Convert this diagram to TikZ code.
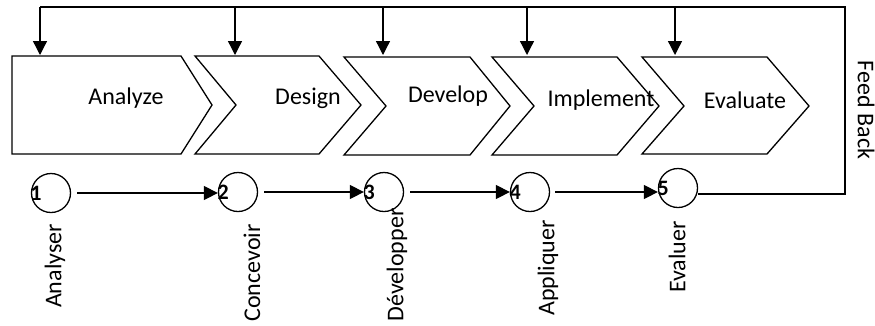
\documentclass[tikz,border=0pt]{standalone}
\usepackage{fontspec}
\setmainfont{Carlito}
\usetikzlibrary{arrows.meta}
\begin{document}
\begin{tikzpicture}[x=1pt,y=-1pt,
  line width=1.3pt,
  chev/.style={draw,line join=miter},
  lbl/.style={font=\fontsize{24}{28}\selectfont,inner sep=0pt},
  vlbl/.style={font=\fontsize{24}{28}\selectfont,inner sep=0pt,rotate=90},
  num/.style={font=\fontsize{22}{26}\selectfont\bfseries,inner sep=0pt,anchor=west},
  stage/.style={draw,circle,minimum size=39pt,inner sep=0pt},
  arr/.style={-{Triangle[width=14pt,length=14pt]}}]
\useasboundingbox (0,0) rectangle (875,325);
% chevrons
\draw[chev] (12,56) -- (181,56) -- (212,105) -- (181,154) -- (12,154) -- cycle;
\draw[chev] (195,56) -- (319,56) -- (361,105) -- (319,154) -- (195,154) -- (236,105) -- cycle;
\draw[chev] (344,57) -- (470,57) -- (510,106) -- (470,155) -- (344,155) -- (386,106) -- cycle;
\draw[chev] (492,57) -- (617,57) -- (659,106) -- (617,155) -- (492,155) -- (534,106) -- cycle;
\draw[chev] (642,57) -- (767,57) -- (809,106) -- (767,154) -- (642,154) -- (684,106) -- cycle;
\node[lbl] (t1) at (126,98) {Analyze};
\node[lbl] (t2) at (308,98) {Design};
\node[lbl] (t3) at (448,96) {Develop};
\node[lbl] (t4) at (601,100) {Implement};
\node[lbl] (t5) at (745,100) {Evaluate};
% circles
\node[stage] (c1) at (51,193) {};
\node[stage] (c2) at (238,192) {};
\node[stage] (c3) at (384,192) {};
\node[stage] (c4) at (530,192) {};
\node[stage] (c5) at (678,188) {};
\node[num] (n1) at ([xshift=-1pt]c1.west) {1};
\node[num] (n2) at ([xshift=-1pt]c2.west) {2};
\node[num] (n3) at ([xshift=-1pt]c3.west) {3};
\node[num] (n4) at ([xshift=-1pt]c4.west) {4};
\node[num] (n5) at ([xshift=-1pt]c5.west) {5};
\draw[arr] ([xshift=6pt]c1.east) -- (c2.west |- c1.east);
\draw[arr] ([xshift=6pt]c2.east) -- (c3.west);
\draw[arr] ([xshift=6pt]c3.east) -- (c4.west);
\draw[arr] ([xshift=5pt]c4.east) -- (c5.west |- c4.east);
% vertical labels
\node[vlbl] (v1) at (55,266) {Analyser};
\node[vlbl] (v2) at (252,273) {Concevoir};
\node[vlbl] (v3) at (397,265) {Développer};
\node[vlbl] (v4) at (548,268) {Appliquer};
\node[vlbl] (v5) at (677,257) {Evaluer};
% feedback
\coordinate (fb1) at (845,194);
\coordinate (fb2) at (845,7);
\coordinate (fb3) at (40,7);
\draw (c5.east |- fb1) -- (fb1) -- (fb2) -- (fb3);
\foreach \x/\n in {40/a,235/b,383/c,527/d,675/e}{
  \coordinate (top\n) at (\x,7);
  \coordinate (bot\n) at (\x,55);
  \draw[arr] (top\n) -- (bot\n);
}
\node[lbl,rotate=-90] (fb) at (866,110) {Feed Back};
\end{tikzpicture}
\end{document}
